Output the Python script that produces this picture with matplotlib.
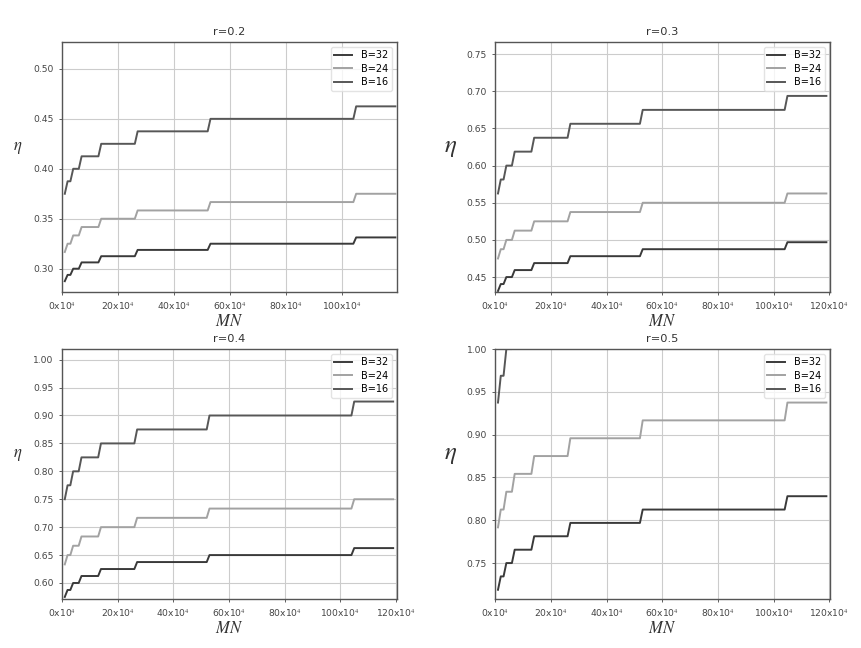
import numpy as np
import matplotlib
matplotlib.use("Agg")
import matplotlib.pyplot as plt
from matplotlib.ticker import MultipleLocator, FuncFormatter

plt.rcParams['mathtext.fontset'] = 'stix'

# MN (x10^4) where each efficiency level is first reached, and last sample
mn_steps = [1, 2, 4, 7, 14, 27, 53, 105]
mn_last = 119

r_values = ["0.2", "0.3", "0.4", "0.5"]
labels = ["B=32", "B=24", "B=16"]

eta_b32 = [
    [0.2875, 0.2938, 0.3000, 0.3063, 0.3125, 0.3188, 0.3250, 0.3313],
    [0.4313, 0.4406, 0.4500, 0.4594, 0.4688, 0.4781, 0.4875, 0.4969],
    [0.5750, 0.5875, 0.6000, 0.6125, 0.6250, 0.6375, 0.6500, 0.6625],
    [0.7188, 0.7344, 0.7500, 0.7656, 0.7813, 0.7969, 0.8125, 0.8281],
]
eta_b24 = [
    [0.3167, 0.3250, 0.3333, 0.3417, 0.3500, 0.3583, 0.3667, 0.3750],
    [0.4750, 0.4875, 0.5000, 0.5125, 0.5250, 0.5375, 0.5500, 0.5625],
    [0.6333, 0.6500, 0.6667, 0.6833, 0.7000, 0.7167, 0.7333, 0.7500],
    [0.7917, 0.8125, 0.8333, 0.8542, 0.8750, 0.8958, 0.9167, 0.9375],
]
eta_b16 = [
    [0.3750, 0.3875, 0.4000, 0.4125, 0.4250, 0.4375, 0.4500, 0.4625],
    [0.5625, 0.5813, 0.6000, 0.6188, 0.6375, 0.6563, 0.6750, 0.6938],
    [0.7500, 0.7750, 0.8000, 0.8250, 0.8500, 0.8750, 0.9000, 0.9250],
    [0.9375, 0.9688, 1.0000, 1.0313, 1.0625, 1.0938, 1.1250, 1.1563],
]

colors = ['#3a3a3a', '#a2a2a2', '#575757']
ylims = [(0.2766, 0.5268), (0.4298, 0.7662), (0.5713, 1.019), (0.708, 1.0)]
xmax = [119.5e4, 120.3e4, 120.3e4, 120.3e4]
eta_size = [12, 18, 12, 18]


def staircase(levels):
    xs, ys = [], []
    ends = [s - 1 for s in mn_steps[1:]] + [mn_last]
    for start, end, lev in zip(mn_steps, ends, levels):
        xs += [start * 1e4, end * 1e4]
        ys += [lev, lev]
    return xs, ys


fig, axes = plt.subplots(2, 2, figsize=(8.61, 6.48), dpi=100)
plt.subplots_adjust(left=0.072, right=0.964, top=0.935, bottom=0.0756,
                    wspace=0.294, hspace=0.228)

for i, ax in enumerate(axes.flat):
    for series, lab, c in zip([eta_b32, eta_b24, eta_b16], labels, colors):
        xs, ys = staircase(series[i])
        ax.plot(xs, ys, color=c, lw=1.4, label=lab)
    ax.set_xlim(0, xmax[i])
    ax.set_ylim(*ylims[i])
    ax.xaxis.set_major_locator(MultipleLocator(20e4))
    ax.yaxis.set_major_locator(MultipleLocator(0.05))
    ax.xaxis.set_major_formatter(FuncFormatter(lambda v, p: f'{v / 1e4:.0f}x10$^4$'))
    ax.grid(True, color='#cccccc', lw=0.8)
    ax.tick_params(labelsize=6.6, length=2.5, width=0.6, colors='#444444')
    for sp in ax.spines.values():
        sp.set_color('#555555')
        sp.set_linewidth(1.0)
    ax.set_title(f"r={r_values[i]}", fontsize=8.2, color='#333333', pad=5)
    ax.set_xlabel('$MN$', fontsize=12, color='#333333')
    ax.xaxis.set_label_coords(0.5, -0.08)
    ax.set_ylabel(r'$\eta$', fontsize=eta_size[i], rotation=0, va='center', ha='center',
                  color='#333333')
    ax.yaxis.set_label_coords(-0.132, 0.58)
    leg = ax.legend(loc='upper right', fontsize=7, handlelength=1.8, labelspacing=0.35,
                    borderpad=0.35, handletextpad=1.0, framealpha=0.8)
    leg.get_frame().set_edgecolor('#dddddd')

fig.savefig("out.png")
